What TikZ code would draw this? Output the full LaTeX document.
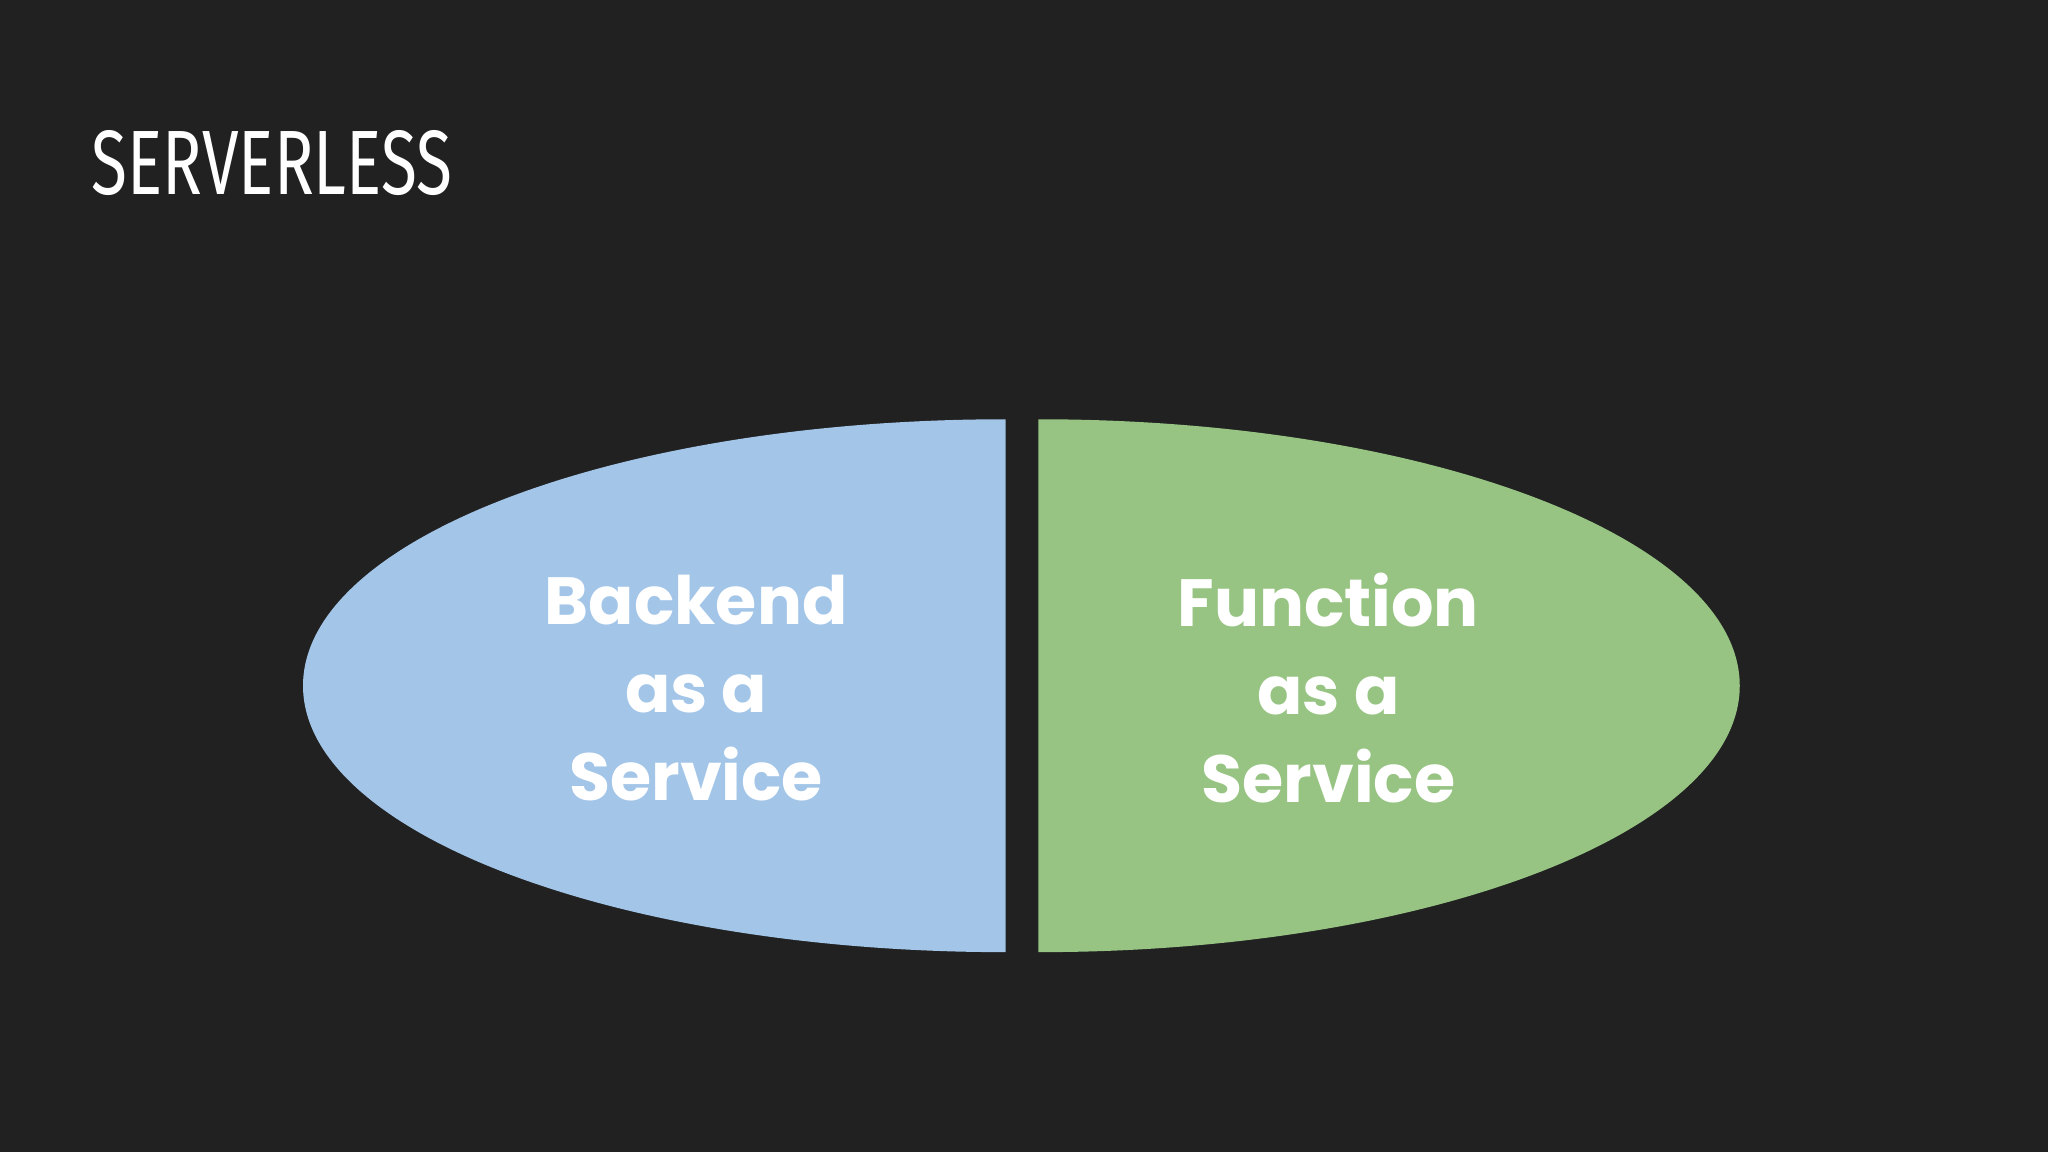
\documentclass[tikz,border=0pt]{standalone}
\usepackage{fontspec}
\setmainfont{Poppins}
\newfontfamily\titlefont{Fira Sans}
\definecolor{bg}{HTML}{212121}
\definecolor{lblue}{HTML}{A2C5E8}
\definecolor{lgreen}{HTML}{97C482}
\begin{document}
\begin{tikzpicture}[x=0.013061cm,y=-0.013061cm,
  lbl/.style={text=white,font=\fontsize{19}{21}\selectfont\bfseries,align=center}]
\fill[bg] (0,0) rectangle (1568,882);
\useasboundingbox (0,0) rectangle (1568,882);
\node[text=white,font=\titlefont\fontsize{26}{28}\selectfont,xscale=0.72,anchor=west,inner sep=0] (title) at (70,125) {SERVERLESS};
\fill[lblue] (770,321) arc[start angle=90,end angle=270,x radius=538,y radius=-204] -- cycle;
\fill[lgreen] (795,321) arc[start angle=90,end angle=-90,x radius=537,y radius=-204] -- cycle;
\node[lbl] (baas) at (533,527) {Backend\\[4pt]as a\\[4pt]Service};
\node[lbl] (faas) at (1017,527) {Function\\[4pt]as a\\[4pt]Service};
\end{tikzpicture}
\end{document}
